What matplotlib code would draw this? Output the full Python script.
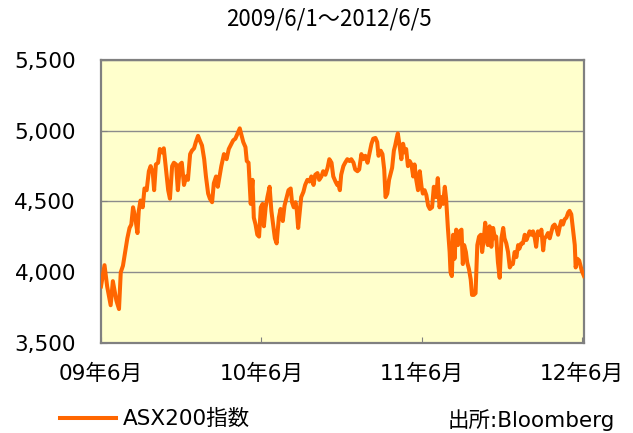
"""
ASX200 index, 2009/6/1 - 2012/6/5, drawn as a single line chart
with Japanese axis labels.
"""

import matplotlib
matplotlib.use("Agg")

import matplotlib.pyplot as plt
import matplotlib.ticker as mticker
import pandas as pd

# start of the series; the points below are days counted from it
START_DATE = "2009-06-01"
END_DATE = "2012-06-05"

day_offsets = [
    0, 8, 14, 22, 27, 35, 41, 45, 50, 55, 60, 65, 69, 73, 78, 83, 86, 90, 95,
    99, 104, 109, 113, 118, 121, 125, 130, 134, 139, 143, 148, 153, 157, 162,
    166, 171, 175, 180, 184, 189, 194, 198, 203, 207, 212, 216, 221, 225, 230,
    235, 239, 244, 248, 253, 257, 262, 266,
    274, 280, 286, 291, 295, 301, 306, 311, 316, 320, 324, 329, 332, 336, 339,
    341, 345, 348, 352, 356, 360, 364, 368, 371, 375, 379, 384, 388, 392, 396,
    400, 405, 409, 414, 418, 423, 427, 432, 435, 439, 443, 446, 449, 453, 456,
    461, 465, 470, 475, 479, 484, 488, 493, 497, 502, 506, 511, 516, 520, 525,
    529, 534, 538,
    540, 544, 547, 552, 556, 561, 566, 570, 575, 579, 584, 588, 593, 597, 602,
    607, 611, 616, 620, 625, 629, 632, 637, 641, 645, 648, 652, 656, 660, 663,
    667, 670, 674, 676, 680, 684, 688, 692, 695, 699, 703, 707, 711, 714, 718,
    722, 726, 730, 733, 737, 741, 745, 749, 754, 758, 763, 767, 771, 775, 779,
    783, 786, 790, 794, 796, 799, 802, 805, 809,
    813, 817, 821, 824, 827, 831, 834, 838, 842, 845, 849, 853, 857, 861, 865,
    868, 872, 875, 878, 881, 885, 889, 893, 897, 900, 904, 908, 912, 916, 919,
    923, 927, 931, 935, 938, 942, 946, 950, 953, 957, 961, 965, 969, 972, 976,
    980, 984, 988, 991, 995, 999, 1003, 1007, 1010, 1014, 1018, 1022, 1026,
    1029, 1033, 1037, 1041, 1045, 1048, 1052, 1056, 1060, 1064, 1067, 1071,
    1075, 1079, 1081, 1085, 1089, 1092, 1095, 1100,
]

asx200 = [
    3900, 4050, 3900, 3767, 3937, 3800, 3740, 4000, 4046, 4143, 4240, 4313,
    4337, 4459, 4386, 4277, 4434, 4507, 4459, 4592, 4580, 4714, 4750, 4700,
    4580, 4762, 4774, 4871, 4847, 4876, 4726, 4580, 4520, 4750, 4774, 4762,
    4580, 4762, 4774, 4617, 4677, 4653, 4835, 4859, 4876, 4920, 4964, 4932,
    4896, 4799, 4677, 4556, 4520, 4495, 4629, 4677, 4604,
    4750, 4835, 4799, 4871, 4896, 4932, 4944, 4981, 5017, 4968, 4920, 4884,
    4786, 4774, 4604, 4483, 4653, 4386, 4337, 4265, 4252, 4459, 4483, 4325,
    4459, 4531, 4604, 4434, 4337, 4240, 4204, 4386, 4447, 4362, 4471, 4531,
    4580, 4592, 4495, 4459, 4495, 4434, 4313, 4434, 4531, 4568, 4617, 4653,
    4641, 4677, 4617, 4689, 4701, 4653, 4677, 4714, 4689, 4738, 4799, 4774,
    4677, 4641, 4617,
    4629, 4580, 4689, 4750, 4774, 4799, 4786, 4799, 4774, 4726, 4714, 4726,
    4835, 4799, 4823, 4774, 4835, 4908, 4944, 4949, 4920, 4823, 4859, 4835,
    4726, 4531, 4556, 4653, 4701, 4738, 4859, 4896, 4956, 4981, 4896, 4799,
    4908, 4847, 4871, 4750, 4786, 4762, 4677, 4762, 4653, 4580, 4714, 4604,
    4556, 4580, 4544, 4471, 4447, 4459, 4604, 4531, 4665, 4459, 4531, 4483,
    4604, 4520, 4313, 4143, 4000, 3973, 4265, 4095, 4301,
    4192, 4289, 4301, 4058, 4192, 4143, 4070, 4022, 3949, 3840, 3840, 3852,
    4192, 4252, 4265, 4143, 4240, 4350, 4240, 4192, 4325, 4180, 4313, 4240,
    4252, 4070, 3961, 4240, 4313, 4240, 4204, 4143, 4034, 4058, 4058, 4143,
    4107, 4192, 4167, 4204, 4204, 4265, 4228, 4252, 4289, 4265, 4289, 4240,
    4180, 4289, 4265, 4301, 4155, 4240, 4252, 4277, 4240, 4289, 4325, 4337,
    4313, 4265, 4325, 4362, 4337, 4374, 4386, 4422, 4434, 4410, 4301, 4192,
    4034, 4095, 4083, 4046, 4010, 3973,
]

tick_dates = ["2009-06-01", "2010-06-01", "2011-06-01", "2012-06-01"]
tick_labels = ["09年6月", "10年6月", "11年6月", "12年6月"]
y_ticks = [3500, 4000, 4500, 5000, 5500]

series_name = "ASX200指数"
title_text = "2009/6/1～2012/6/5"
source_text = "出所:Bloomberg"

LINE_COLOR = "#FF6600"
PANEL_COLOR = "#FFFFCC"
FRAME_COLOR = "#808080"

plt.rcParams['font.family'] = ['DejaVu Sans', 'Noto Sans CJK JP']

dates = pd.to_datetime(START_DATE) + pd.to_timedelta(day_offsets, unit="D")

fig = plt.figure(figsize=(6.33, 4.33), dpi=100)
ax = fig.add_axes([101 / 633, 1 - 343 / 433, 483 / 633, 283 / 433])
ax.set_facecolor(PANEL_COLOR)

line, = ax.plot(dates, asx200, color=LINE_COLOR, linewidth=2.9,
                solid_joinstyle="round", zorder=3)

ax.set_xlim(pd.to_datetime(START_DATE), pd.to_datetime(END_DATE))
ax.set_ylim(y_ticks[0], y_ticks[-1])

ax.set_xticks(pd.to_datetime(tick_dates))
ax.set_xticklabels(tick_labels)
ax.set_yticks(y_ticks)
ax.yaxis.set_major_formatter(mticker.FuncFormatter(lambda v, pos: f"{v:,.0f}"))

# horizontal gridlines only
ax.grid(axis="y", color="#8C8C8C", linewidth=1.0, zorder=1)
ax.grid(axis="x", visible=False)

for side in ax.spines.values():
    side.set_color(FRAME_COLOR)
    side.set_linewidth(1.6)

ax.tick_params(axis="x", direction="in", length=4.5, color=FRAME_COLOR,
               labelsize=15.5, pad=15)
ax.tick_params(axis="y", direction="in", length=4, color=FRAME_COLOR,
               labelsize=15.5, pad=18)

fig.text(329 / 633, 1 - 19 / 433, title_text, ha="center", va="center",
         fontsize=16, family=["Noto Sans CJK JP", "DejaVu Sans"])

fig.legend([line], [series_name], loc="center left",
           bbox_to_anchor=(60 / 633, 1 - 419 / 433), frameon=False,
           fontsize=15.5, handlelength=2.6, handletextpad=0.3,
           borderpad=0, borderaxespad=0)

fig.text(615 / 633, 1 - 420 / 433, source_text, ha="right", va="center",
         fontsize=15.5)

fig.savefig("out.png", dpi=100)
plt.close(fig)
